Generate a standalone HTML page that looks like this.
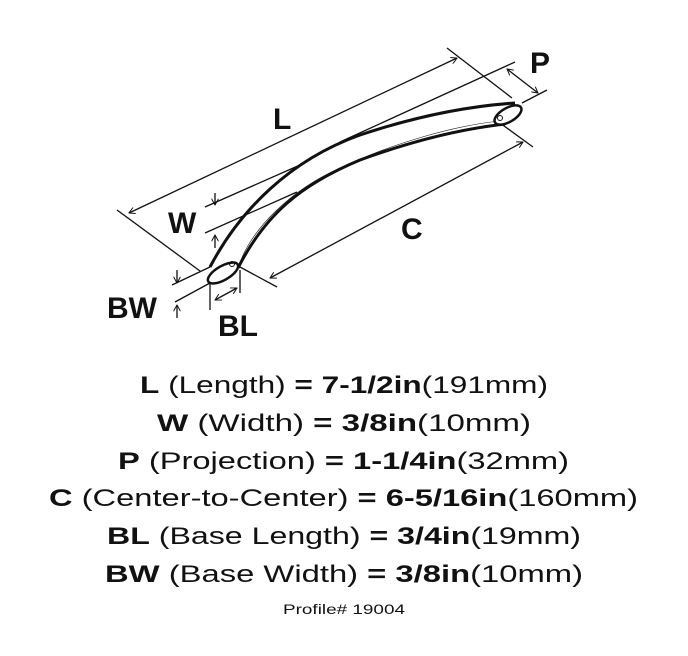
<!DOCTYPE html>
<html><head><meta charset="utf-8"><style>
html,body{margin:0;padding:0;background:#fff;}
svg{display:block;}
text{font-family:"Liberation Sans",sans-serif;fill:#111;}
</style></head><body>
<svg width="688" height="656" viewBox="0 0 688 656" xmlns="http://www.w3.org/2000/svg">
<defs>
<marker id="a" viewBox="0 0 10 10" refX="9" refY="5" markerWidth="7" markerHeight="7" orient="auto-start-reverse" markerUnits="userSpaceOnUse">
<path d="M0,0 L9,5 L0,10" fill="none" stroke="#111" stroke-width="1.4"/>
</marker>
</defs>
<g stroke="#111" stroke-width="1.3" fill="none">
<!-- L -->
<line x1="117" y1="210" x2="200" y2="271"/>
<line x1="447" y1="48" x2="512" y2="98"/>
<line x1="129" y1="213" x2="457" y2="58" marker-start="url(#a)" marker-end="url(#a)"/>
<!-- P -->
<line x1="515" y1="62" x2="340" y2="142"/>
<line x1="547" y1="90" x2="522" y2="103"/>
<line x1="507" y1="69" x2="538" y2="93" marker-start="url(#a)" marker-end="url(#a)"/>
<!-- C -->
<line x1="240" y1="267" x2="277" y2="287"/>
<line x1="500" y1="123" x2="533" y2="147"/>
<line x1="270" y1="278" x2="523" y2="142" marker-start="url(#a)" marker-end="url(#a)"/>
<!-- W -->
<line x1="205" y1="207" x2="300" y2="165"/>
<line x1="205" y1="233" x2="297" y2="192"/>
<line x1="215" y1="193" x2="215" y2="205" marker-end="url(#a)"/>
<line x1="215" y1="248" x2="215" y2="235" marker-end="url(#a)"/>
<!-- BW -->
<line x1="172" y1="285" x2="210" y2="267"/>
<line x1="175" y1="302" x2="210" y2="283"/>
<line x1="177" y1="270" x2="177" y2="283" marker-end="url(#a)"/>
<line x1="177" y1="318" x2="177" y2="305" marker-end="url(#a)"/>
<!-- BL -->
<line x1="210" y1="283" x2="210" y2="310"/>
<line x1="240" y1="270" x2="240" y2="293"/>
<line x1="215" y1="300" x2="237" y2="288" marker-start="url(#a)" marker-end="url(#a)"/>
</g>
<!-- handle -->
<g stroke="#111" fill="none">
<path d="M210,267 C240,210 290,160 360,135 C420,115 470,106 515,103" stroke-width="3"/>
<path d="M238,268 C265,215 300,185 360,160 C420,138 470,128 505,124" stroke-width="3"/>
<path d="M238,268 C250,230 290,190 340,168 C400,140 460,125 500,121" stroke-width="0.6"/>
<ellipse cx="223" cy="273" rx="17" ry="7" transform="rotate(-30 223 273)" stroke-width="2.5" fill="#fff"/>
<ellipse cx="508" cy="115" rx="15" ry="7" transform="rotate(-30 508 115)" stroke-width="2.5" fill="#fff"/>
<circle cx="232" cy="264" r="2.5" stroke-width="1"/>
<circle cx="500" cy="118" r="2.5" stroke-width="1"/>
</g>
<g font-size="30" font-weight="bold">
<text x="273" y="129">L</text>
<text x="530" y="73">P</text>
<text x="168" y="233">W</text>
<text x="401" y="239">C</text>
<text x="107" y="318">BW</text>
<text x="218" y="336">BL</text>
</g>
<g font-size="24">
<text x="140" y="393" textLength="408" lengthAdjust="spacingAndGlyphs"><tspan font-weight="bold">L</tspan> (Length) <tspan font-weight="bold">= 7-1/2in</tspan>(191mm)</text>
<text x="157" y="431" textLength="374" lengthAdjust="spacingAndGlyphs"><tspan font-weight="bold">W</tspan> (Width) <tspan font-weight="bold">= 3/8in</tspan>(10mm)</text>
<text x="118" y="469" textLength="451" lengthAdjust="spacingAndGlyphs"><tspan font-weight="bold">P</tspan> (Projection) <tspan font-weight="bold">= 1-1/4in</tspan>(32mm)</text>
<text x="49" y="506" textLength="589" lengthAdjust="spacingAndGlyphs"><tspan font-weight="bold">C</tspan> (Center-to-Center) <tspan font-weight="bold">= 6-5/16in</tspan>(160mm)</text>
<text x="107" y="544" textLength="474" lengthAdjust="spacingAndGlyphs"><tspan font-weight="bold">BL</tspan> (Base Length) <tspan font-weight="bold">= 3/4in</tspan>(19mm)</text>
<text x="105" y="582" textLength="478" lengthAdjust="spacingAndGlyphs"><tspan font-weight="bold">BW</tspan> (Base Width) <tspan font-weight="bold">= 3/8in</tspan>(10mm)</text>
</g>
<text x="283" y="614" font-size="14" textLength="122" lengthAdjust="spacingAndGlyphs">Profile# 19004</text>
</svg>
</body></html>
